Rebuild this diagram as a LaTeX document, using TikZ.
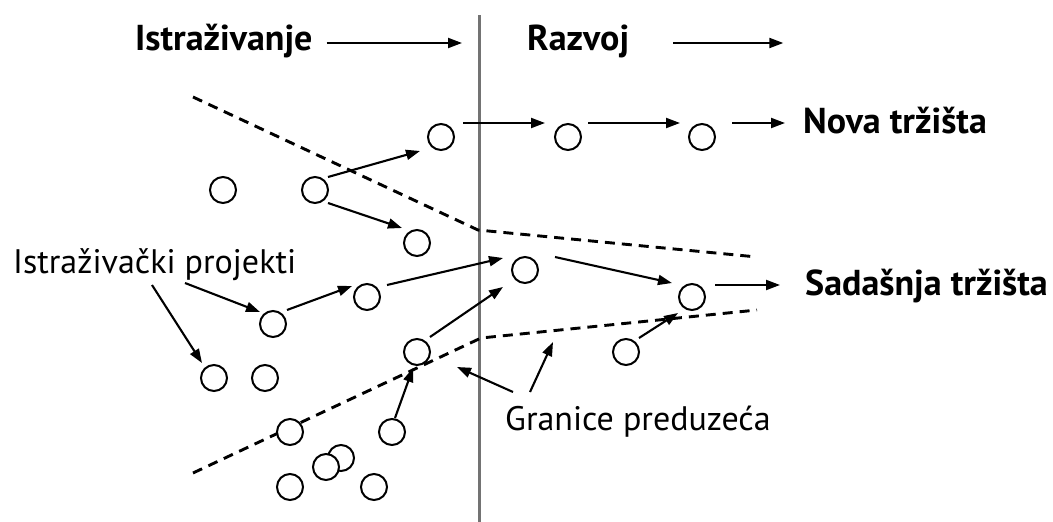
\documentclass[tikz,border=0pt]{standalone}
\usepackage{fontspec}
\setmainfont{PT Sans}
\usetikzlibrary{arrows.meta,calc}
\begin{document}
\begin{tikzpicture}[x=1pt,y=-1pt,
  proj/.style={circle,draw=black,line width=2pt,minimum size=26pt,inner sep=0pt,fill=white},
  arr/.style={line width=2.1pt,-{Triangle[length=14pt,width=10pt]}},
  bound/.style={line width=2.9pt,dash pattern=on 10pt off 7pt},
  head/.style={font=\fontsize{36}{40}\selectfont\bfseries,inner sep=0pt,anchor=base west},
  lab/.style={font=\fontsize{34}{38}\selectfont,inner sep=0pt,anchor=base west}]
\useasboundingbox (0,0) rectangle (1053,522);

% divider
\coordinate (vt) at (479,15);
\coordinate (vb) at (479,522);
\draw[line width=3pt,draw=black!55] (vt) -- (vb);

% boundaries
\coordinate (u1) at (193,97);
\coordinate (u2) at (478,230);
\coordinate (u3) at (757,257);
\coordinate (l1) at (193,473);
\coordinate (l2) at (481,338);
\coordinate (l3) at (757,310);
\draw[bound] (u1) -- (u2) -- (u3);
\draw[bound] (l1) -- (l2) -- (l3);

% texts
\node[head] (ist) at (135,50) {Istraživanje};
\node[head] (raz) at (527,50) {Razvoj};
\node[head] (nova) at (803,133) {Nova tržišta};
\node[head] (sad) at (805,295) {Sadašnja tržišta};
\node[lab] (ip) at (13,273) {Istraživački projekti};
\node[lab] (gp) at (505,430) {Granice preduzeća};

% circles
\node[proj] (c1) at (441,137) {};
\node[proj] (c2) at (568,137) {};
\node[proj] (c3) at (702,137) {};
\node[proj] (c4) at (223,190) {};
\node[proj] (c5) at (315,190) {};
\node[proj] (c6) at (417,243) {};
\node[proj] (c7) at (525,270) {};
\node[proj] (c8) at (367,297) {};
\node[proj] (c9) at (273,324) {};
\node[proj] (c10) at (692,297) {};
\node[proj] (c11) at (417,352) {};
\node[proj] (c12) at (626,352) {};
\node[proj] (c13) at (214,378) {};
\node[proj] (c14) at (265,378) {};
\node[proj] (c15) at (290,432) {};
\node[proj] (c16) at (392,432) {};
\node[proj] (c17) at (341,458) {};
\node[proj] (c18) at (326,467) {};
\node[proj] (c19) at (290,487) {};
\node[proj] (c20) at (374,487) {};

% heading arrows
\draw[arr] ($(ist.base east)+(14,-7)$) -- ($(vt)+(-17,28)$);
\draw[arr] ($(raz.base east)+(44,-7)$) -- ($(raz.base east)+(154,-7)$);

% project arrows
\draw[arr] ($(c5)+(13,-13)$) -- ($(c1)+(-21,14)$);
\draw[arr] ($(c5)+(13,13)$) -- ($(c6)+(-15,-15)$);
\draw[arr] ($(c1)+(22,-14)$) -- ($(c2)+(-23,-14)$);
\draw[arr] ($(c2)+(20,-14)$) -- ($(c3)+(-22,-14)$);
\draw[arr] ($(c3)+(30,-14)$) -- ($(nova.base west)+(-18,-10)$);
\draw[arr] ($(c9)+(14,-14)$) -- ($(c8)+(-15,-11)$);
\draw[arr] ($(c8)+(20,-12)$) -- ($(c7)+(-22,-12)$);
\draw[arr] ($(c11)+(13,-15)$) -- ($(c7)+(-22,17)$);
\draw[arr] ($(c7)+(30,-13)$) -- ($(c10)+(-20,-14)$);
\draw[arr] ($(c10)+(23,-12)$) -- ($(sad.base west)+(-25,-10)$);
\draw[arr] ($(c12)+(13,-14)$) -- ($(c10)+(-14,16)$);
\draw[arr] ($(c16)+(3,-14)$) -- ($(c11)+(-4,16)$);

% label arrows
\draw[arr] ($(ip.base west)+(139,12)$) -- ($(c13)+(-12,-15)$);
\draw[arr] ($(ip.base west)+(172,10)$) -- ($(c9)+(-13,-12)$);
\draw[arr] ($(gp.base west)+(8,-38)$) -- ($(l2)+(-24,29)$);
\draw[arr] ($(gp.base west)+(25,-38)$) -- ($(l2)+(72,4)$);
\end{tikzpicture}
\end{document}
